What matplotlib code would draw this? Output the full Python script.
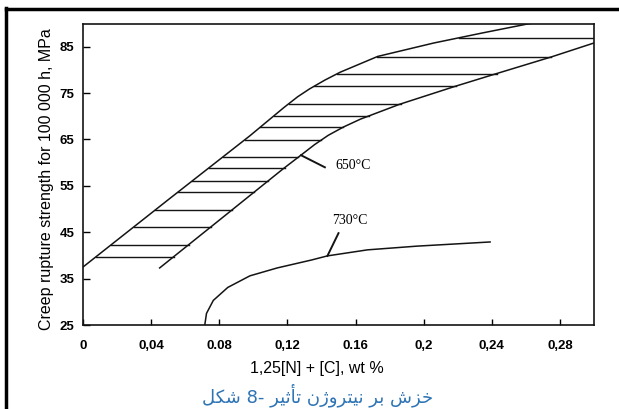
import numpy as np
import matplotlib.pyplot as plt
from matplotlib.lines import Line2D

# 650 C scatter band (upper and lower limits)
x_650_upper = [0.0, 0.05, 0.098, 0.118, 0.126, 0.133, 0.142, 0.151, 0.173, 0.206, 0.235, 0.261, 0.275]
y_650_upper = [37.5, 52.0, 65.8, 71.9, 74.2, 75.9, 77.8, 79.5, 82.9, 85.8, 88.0, 89.9, 90.7]
x_650_lower = [0.045, 0.08, 0.1176, 0.1286, 0.136, 0.144, 0.153, 0.163, 0.186, 0.218, 0.241, 0.275, 0.300]
y_650_lower = [37.3, 47.6, 58.7, 61.8, 63.9, 65.9, 67.7, 69.4, 72.6, 76.4, 79.0, 82.8, 85.8]
hatch_levels = [39.7, 42.3, 46.1, 49.8, 53.6, 56.1, 58.9, 61.2, 64.9, 67.6,
                70.1, 72.7, 76.5, 79.2, 82.8, 86.9]

# 730 C curve
x_730 = [0.0715, 0.0725, 0.0765, 0.085, 0.098, 0.114, 0.134, 0.1435, 0.167, 0.196, 0.239]
y_730 = [25.0, 27.5, 30.3, 33.1, 35.6, 37.3, 39.0, 39.9, 41.2, 42.0, 42.9]

x_ticks = [0, 0.04, 0.08, 0.12, 0.16, 0.20, 0.24, 0.28]
x_tick_labels = ['0', '0,04', '0.08', '0,12', '0.16', '0,2', '0,24', '0,28']
y_ticks = [25, 35, 45, 55, 65, 75, 85]

# caption: Persian letters in shaped (presentation) forms, in visual order,
# since matplotlib does no shaping or bidi of its own
caption = ('\uFEDE\uFB91\uFEB7 8- \uFEAE\uFBFF\uFE9B\uFE84\uFE97 '
           '\uFEE5\uFB8A\uFEED\uFEAE\uFE98\uFBFF\uFEE7 \uFEAE\uFE91 \uFEB5\uFEB0\uFEA7')

ink = '#141414'

fig = plt.figure(figsize=(6.19, 4.09), dpi=100)
ax = fig.add_axes([83 / 619, 1 - 325 / 409, (594 - 83) / 619, (325 - 23.5) / 409])

ax.plot(x_650_upper, y_650_upper, color=ink, lw=1.1)
ax.plot(x_650_lower, y_650_lower, color=ink, lw=1.1)
for lev in hatch_levels:
    xl = np.interp(lev, y_650_upper, x_650_upper)
    xr = np.interp(lev, y_650_lower, x_650_lower)
    ax.plot([xl, xr], [lev, lev], color=ink, lw=1.0)

ax.plot(x_730, y_730, color=ink, lw=1.1)

# labels with leader lines
ax.plot([0.128, 0.142], [61.6, 59.0], color=ink, lw=1.4)
ax.text(0.148, 59.3, '650°C', fontsize=10, family='Liberation Serif', va='center', ha='left')
ax.plot([0.1435, 0.150], [39.9, 44.8], color=ink, lw=1.4)
ax.text(0.1465, 47.6, '730°C', fontsize=10, family='Liberation Serif', va='center', ha='left')

ax.set_xlim(0, 0.30)
ax.set_ylim(25, 90)
ax.set_xticks(x_ticks)
ax.set_xticklabels(x_tick_labels)
ax.set_yticks(y_ticks)
ax.tick_params(axis='x', direction='in', length=4, pad=11, width=1)
ax.tick_params(axis='y', direction='in', length=5, pad=6, width=1)
for lab in ax.get_xticklabels() + ax.get_yticklabels():
    lab.set_fontfamily('Liberation Sans')
    lab.set_fontweight('bold')
    lab.set_fontsize(9.5)
for sp in ax.spines.values():
    sp.set_color(ink)
    sp.set_linewidth(1.2)

ax.set_xlabel('1,25[N] + [C], wt %', fontsize=11.5, family='Liberation Sans', va='center')
ax.set_ylabel('Creep rupture strength for 100 000 h, MPa', fontsize=11.5,
              family='Liberation Sans', va='center')
ax.xaxis.set_label_coords(0.458, -0.143)
ax.yaxis.set_label_coords(-0.0705, 0.484)

fig.text(318 / 619, 1 - 395 / 409, caption, fontsize=13, family='DejaVu Sans',
         color='#2E74B5', ha='center', va='center')

# page frame (left and top edges)
fig.add_artist(Line2D([6 / 619, 6 / 619], [0, 1 - 8 / 409], color='black', lw=2.5))
fig.add_artist(Line2D([6 / 619, 617 / 619], [1 - 9 / 409, 1 - 9 / 409], color='black', lw=2.5))

fig.savefig('out.png', dpi=100)
